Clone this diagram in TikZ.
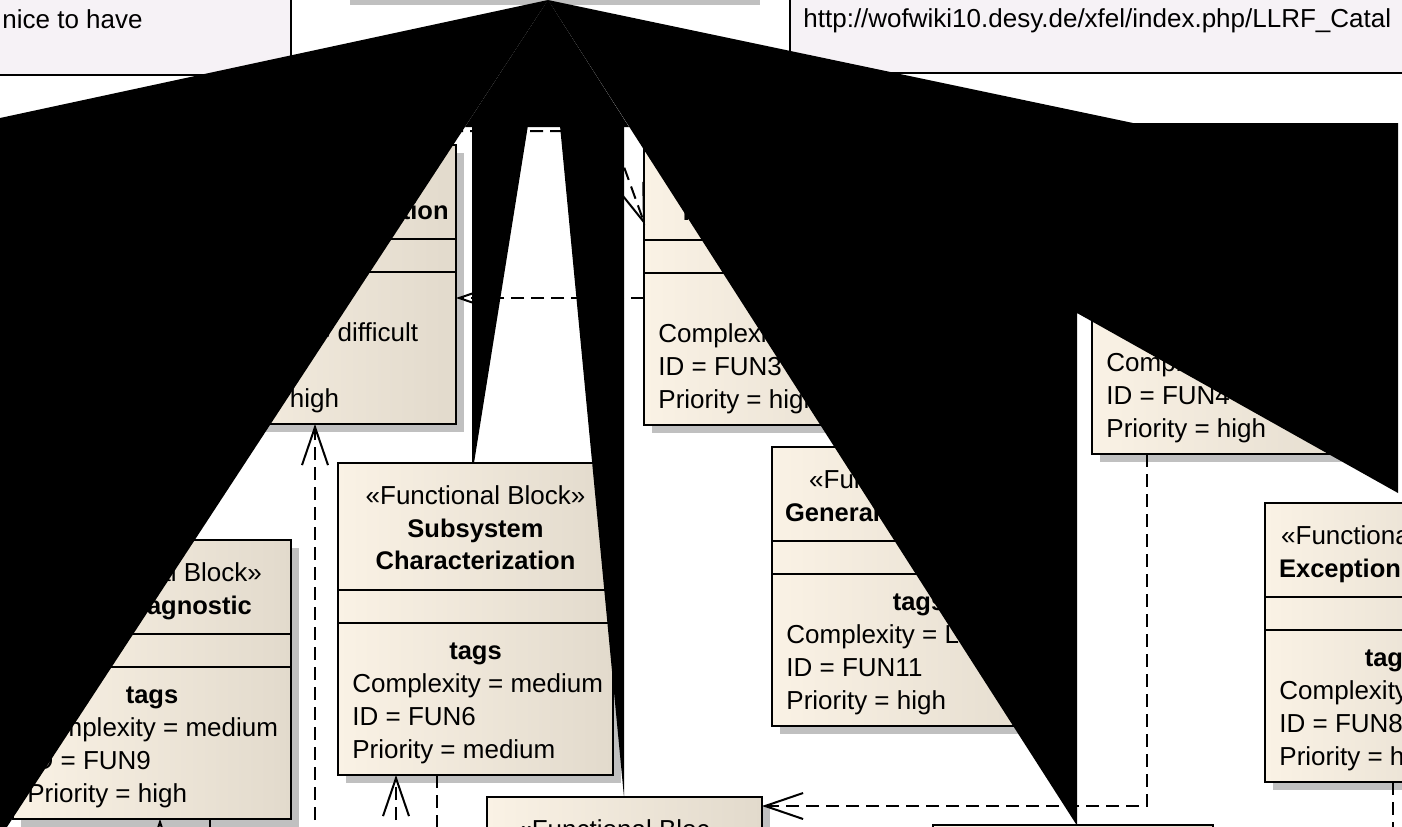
\documentclass[tikz,border=0pt]{standalone}
\usepackage{fontspec}
\setmainfont{Liberation Sans}
\usetikzlibrary{calc}
\usetikzlibrary{shadows}
\usetikzlibrary{arrows.meta}
\tikzset{>={Straight Barb[length=19pt,width=13pt]}}
\definecolor{blockleft}{RGB}{250,242,229}
\definecolor{blockright}{RGB}{226,218,204}
\definecolor{notefill}{RGB}{246,242,246}
\definecolor{shadowgray}{RGB}{192,192,192}

\tikzset{
  fblk/.style={draw, line width=1pt, left color=blockleft, right color=blockright,
    inner sep=0pt, outer sep=0pt, anchor=north west,
    drop shadow={shadow xshift=4pt, shadow yshift=-4pt, fill=shadowgray, opacity=1}},
  notebox/.style={draw, line width=1pt, fill=notefill, inner sep=0pt, outer sep=0pt, anchor=north west},
  notetxt/.style={font=\fontsize{13}{15}\selectfont, inner sep=0pt},
  ster/.style={font=\fontsize{13}{15}\selectfont, inner sep=0pt, anchor=base},
  bname/.style={font=\bfseries\fontsize{12.75}{15}\selectfont, inner sep=0pt, anchor=base},
  tagline/.style={font=\fontsize{13}{15}\selectfont, inner sep=0pt, anchor=base west},
  dashln/.style={line width=1pt, dash pattern=on 6.5pt off 3.5pt},
  dep/.style={dashln, ->},
  blackout/.style={fill=black},
}

% #1 title height, #2 name, #3 top left, #4 width, #5 names, #6-#8 tags
\newcommand{\fblock}[8][94]{%
  \node[fblk, minimum width={#4*0.5pt}, minimum height={(#1+185)*0.5pt}] (#2) at #3 {};
  \draw[line width=1pt] ($(#2.north west)+(0,#1)$) -- ++(#4,0)
    ($(#2.north west)+(0,#1+33)$) -- ++(#4,0);
  \node[ster] (#2-st) at ($(#2.north)+(0,41.5)$) {«Functional Block»};
  \foreach \nm [count=\k] in {#5}
    \node[bname] (#2-n\k) at ($(#2.north)+(0,{32.5*\k+41.5})$) {\nm};
  \node[bname] (#2-tg) at ($(#2.north)+(0,#1+69)$) {tags};
  \node[tagline] (#2-cx) at ($(#2.north west)+(14,#1+102)$) {Complexity = #6};
  \node[tagline] (#2-id) at ($(#2.north west)+(14,#1+135)$) {ID = #7};
  \node[tagline] (#2-pr) at ($(#2.north west)+(14,#1+168)$) {Priority = #8};
}

\begin{document}
\begin{tikzpicture}[x=0.5pt, y=-0.5pt]
  \useasboundingbox (0,0) rectangle (1402,826);
  \clip (0,0) rectangle (1402,826);

  % notes
  \node[notebox, minimum width=150.5pt, minimum height=42.5pt] (nice) at (-10,-10) {};
  \node[notetxt, anchor=base west] (nice-t) at (2,28) {nice to have};
  \node[notebox, minimum width=320pt, minimum height=41.5pt] (wiki) at (790,-10) {};
  \node[notetxt, anchor=base west] (wiki-t) at (803,27) {http://wofwiki10.desy.de/xfel/index.php/LLRF\_Catal};
  \fill[shadowgray] (350,-5) rectangle (760,5);

  % functional blocks
  \fblock{calib}{(165,145)}{291}{Subsystem Calibration}{difficult}{FUN5}{high}
  \fblock{fun3}{(644,146)}{293}{Feedback Control}{medium}{FUN3}{high}
  \fblock{fun4}{(1092,175)}{288}{}{medium}{FUN4}{high}
  \fblock[127]{subsys}{(338,463)}{275}{Subsystem,Characterization}{medium}{FUN6}{medium}
  \fblock{diag}{(13,540)}{278}{Loop Diagnostic}{medium}{FUN9}{high}
  \fblock{gen}{(772,447)}{294}{General Infrastructure}{Low}{FUN11}{high}
  \fblock{exc}{(1265,503)}{252}{Exception Handler}{medium}{FUN8}{high}
  \node[fblk, minimum width=137.5pt, minimum height=50pt] (bot) at (487,797) {};
  \node[ster, anchor=base west] (bot-st) at ($(bot.north west)+(30,41.5)$) {«Functional Bloc};
  \node[fblk, minimum width=140pt, minimum height=50pt] (botr) at (933,825) {};

  % dependencies
  \coordinate (e1) at (315,860);
  \draw[dep] (e1) -- (e1 |- calib.south);
  \coordinate (k1) at ($(fun3.north west)+(0,152)$);
  \draw[dep] (k1) -- (k1 -| calib.east);
  \coordinate (k2) at (430,131);
  \coordinate (k3) at (611,131);
  \draw[dep] (k2) -- (k3) -- ($(fun3.north west)+(1,79)$);
  \draw[dep] ($(fun4.south west)+(55,0)$) |- ($(bot.north east)+(0,9)$);
  \coordinate (e2) at (396,860);
  \draw[dep] (e2) -- (e2 |- subsys.south);
  \draw[dashln] ($(subsys.south west)+(99,0)$) -- ++(0,60);
  \coordinate (e3) at (160,860);
  \draw[dep] (e3) -- (e3 |- diag.south);
  \draw[dashln] ($(diag.south west)+(197,0)$) -- ++(0,60);
  \draw[dashln] ($(exc.south west)+(128,0)$) -- ++(0,60);

  % black wedges
  \coordinate (ap) at (548,0);
  \fill[blackout] (ap) -- (0,118) -- (0,830) -- (5,830) -- cycle;
  \fill[blackout] (ap) -- (465,127) -- (629,127) -- cycle;
  \fill[blackout] (ap) -- (472,127) -- (472,463) -- (474,463) -- cycle;
  \fill[blackout] (ap) -- (624,127) -- (624,797) -- cycle;
  \fill[blackout] (ap) -- (1133,123) -- (1398,123) -- (1398,493) -- (1077,313)
    -- (1077,824) -- (1076,824) -- cycle;
\end{tikzpicture}
\end{document}
